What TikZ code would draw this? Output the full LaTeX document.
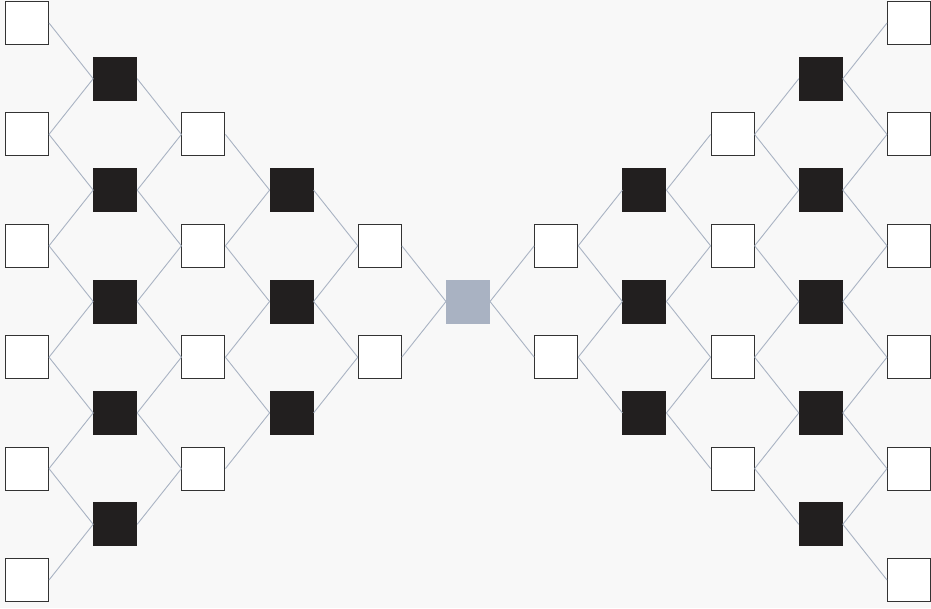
\documentclass[tikz,border=0pt]{standalone}
\definecolor{bg}{HTML}{F8F8F8}
\definecolor{edgec}{HTML}{A9B3C3}
\definecolor{boxdark}{HTML}{221F1F}
\definecolor{boxline}{HTML}{333333}
\definecolor{centerc}{HTML}{A9B2C2}
\begin{document}
\begin{tikzpicture}[x=1pt,y=-1pt,
  sq/.style={rectangle,minimum size=43pt,inner sep=0pt,line width=1pt},
  wbox/.style={sq,draw=boxline,fill=white},
  bbox/.style={sq,draw=boxdark,fill=boxdark},
  gbox/.style={sq,draw=centerc,fill=centerc},
  link/.style={draw=edgec,line width=0.9pt}]
\fill[bg] (0,0) rectangle (931,608);
\useasboundingbox (0,0) rectangle (931,608);
\foreach \c in {0,...,10}{
  \pgfmathtruncatemacro\d{min(\c,10-\c)}
  \foreach \r in {0,...,10}{
    \pgfmathtruncatemacro\ok{(\r>=\d)&&(\r<=10-\d)&&(isodd(\r+\d)==0)}
    \ifnum\ok=1
      \ifnum\d=5
        \node[gbox] (n-\c-\r) at ({27+88.2*\c},{23+55.7*\r}) {};
      \else\ifodd\d
        \node[bbox] (n-\c-\r) at ({27+88.2*\c},{23+55.7*\r}) {};
      \else
        \node[wbox] (n-\c-\r) at ({27+88.2*\c},{23+55.7*\r}) {};
      \fi\fi
    \fi
  }
}
\foreach \c in {0,...,9}{
  \pgfmathtruncatemacro\d{min(\c,10-\c)}
  \pgfmathtruncatemacro\e{min(\c+1,9-\c)}
  \pgfmathtruncatemacro\cn{\c+1}
  \foreach \r in {0,...,10}{
    \pgfmathtruncatemacro\ok{(\r>=\d)&&(\r<=10-\d)&&(isodd(\r+\d)==0)}
    \ifnum\ok=1
      \pgfmathtruncatemacro\up{\r-1}
      \pgfmathtruncatemacro\dn{\r+1}
      \pgfmathtruncatemacro\okup{(\up>=\e)&&(\up<=10-\e)}
      \pgfmathtruncatemacro\okdn{(\dn>=\e)&&(\dn<=10-\e)}
      \ifnum\okup=1 \draw[link] (n-\c-\r.east) -- (n-\cn-\up.west); \fi
      \ifnum\okdn=1 \draw[link] (n-\c-\r.east) -- (n-\cn-\dn.west); \fi
    \fi
  }
}
\end{tikzpicture}
\end{document}
